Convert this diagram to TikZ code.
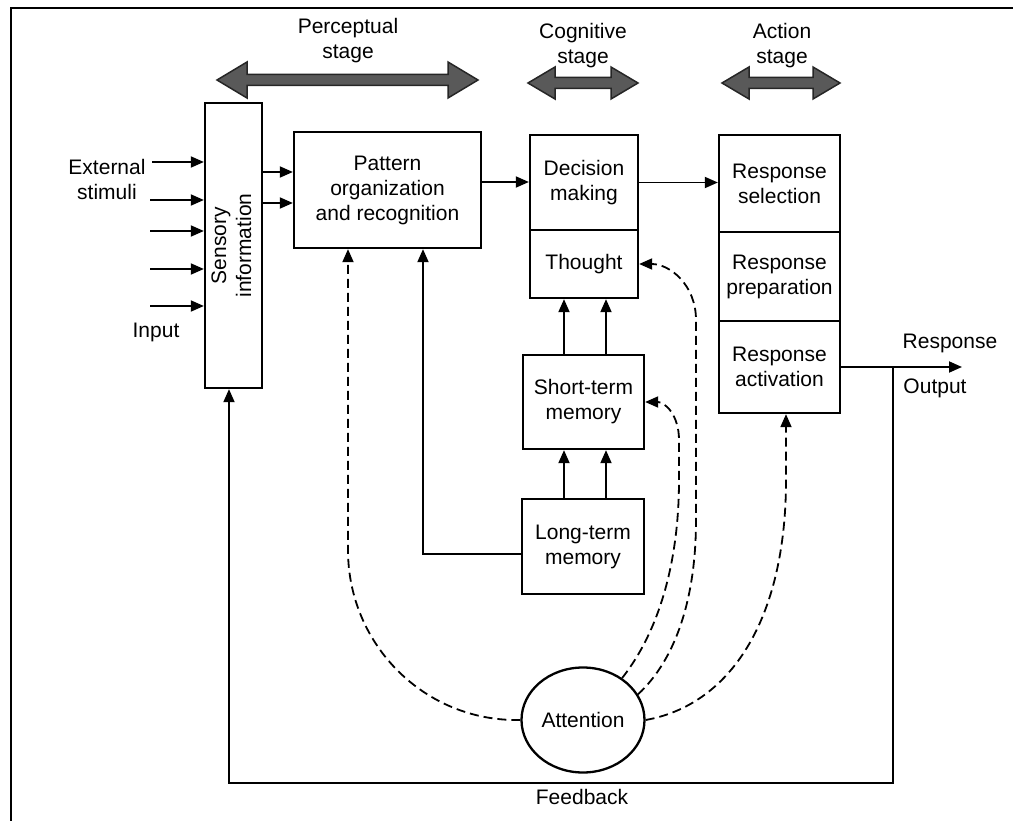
\documentclass[tikz,border=0pt]{standalone}
\usepackage{fontspec}
\setmainfont{Liberation Sans}
\usetikzlibrary{arrows.meta,shapes.geometric}

% broad two-headed stage marker: #1 left tip x, #2 right tip x, #3 y, #4 head length, #5 head half-width
\newcommand\StageArrow[5]{%
  \filldraw[stagefill]
    (#1,#3) -- (#1+#4,#3-#5) -- (#1+#4,#3-5.5) -- (#2-#4,#3-5.5) -- (#2-#4,#3-#5)
    -- (#2,#3) -- (#2-#4,#3+#5) -- (#2-#4,#3+5.5) -- (#1+#4,#3+5.5) -- (#1+#4,#3+#5) -- cycle;}

\begin{document}
\begin{tikzpicture}[x=1pt,y=-1pt,
  every node/.style={font=\fontsize{21}{25}\selectfont},
  box/.style={draw,line width=2.3pt,inner sep=0pt,align=center,anchor=center},
  lbl/.style={inner sep=0pt,align=center},
  arr/.style={line width=1.8pt,-{Triangle[length=13pt,width=11pt]}},
  dsh/.style={arr,dash pattern=on 9pt off 5pt},
  stagefill/.style={fill=black!65,draw=black!85,line width=1.5pt,line join=miter}]

\useasboundingbox (0,0) rectangle (1013,821);

% page frame
\draw[line width=2.4pt] (11,821) -- (11,8) -- (1013,8);

% stage markers
\node[lbl] (perc) at (348,41) {Perceptual\\stage};
\node[lbl] (cogn) at (583,46) {Cognitive\\stage};
\node[lbl] (actn) at (782,46) {Action\\stage};
\StageArrow{217}{478}{80}{30}{18}
\StageArrow{528}{638}{83}{27}{16}
\StageArrow{722}{840}{83}{27}{16}

% processing blocks
\node[box,minimum width=57pt,minimum height=285pt] (sens) at (233.5,245.5)
  {\rotatebox{90}{\begin{tabular}{@{}c@{}}Sensory\\information\end{tabular}}};
\node[box,minimum width=187pt,minimum height=116pt] (pat) at (387.5,190)
  {Pattern\\organization\\and recognition};
\node[box,minimum width=108pt,minimum height=95pt] (dec) at (584,182.5) {Decision\\making};
\node[box,minimum width=108pt,minimum height=68pt] (th) at (584,264) {Thought};
\node[box,minimum width=121pt,minimum height=97pt] (sel) at (779.5,183.5) {Response\\selection};
\node[box,minimum width=121pt,minimum height=89pt] (prep) at (779.5,276.5) {Response\\preparation};
\node[box,minimum width=121pt,minimum height=92pt] (act) at (779.5,367) {Response\\activation};
\node[box,minimum width=121pt,minimum height=94pt] (stm) at (583.5,402) {Short-term\\memory};
\node[box,minimum width=122pt,minimum height=95pt] (ltm) at (583,546.5) {Long-term\\memory};
\node[box,ellipse,minimum width=123pt,minimum height=105pt] (att) at (583,720) {Attention};

% labels
\node[lbl] (ext) at (107,179) {External\\stimuli};
\node[lbl] (inp) at (156,332) {Input};
\node[lbl] (resp) at (950,343) {Response};
\node[lbl] (outl) at (935,388) {Output};
\node[lbl] (fbl) at (582,797) {Feedback};

% external inputs
\coordinate (in1) at (152,162);
\coordinate (in2) at (150,200);
\coordinate (in3) at (150,231);
\coordinate (in4) at (150,269);
\coordinate (in5) at (150,306);
\foreach \c in {in1,in2,in3,in4,in5}
  \draw[arr] (\c) -- (\c -| sens.west);

% forward flow
\draw[arr] (sens.east |- 0,172) -- (pat.west |- 0,172);
\draw[arr] (sens.east |- 0,203) -- (pat.west |- 0,203);
\draw[arr] (pat.east |- 0,182) -- (dec.west |- 0,182);
\draw[arr] (dec.east) -- (sel.west |- dec.east);

% memory links
\draw[arr] (stm.north -| 564,0) -- (th.south -| 564,0);
\draw[arr] (stm.north -| 606,0) -- (th.south -| 606,0);
\draw[arr] (ltm.north -| 564,0) -- (stm.south -| 564,0);
\draw[arr] (ltm.north -| 606,0) -- (stm.south -| 606,0);
\coordinate (lk) at (423,554);
\draw[arr] (ltm.west |- lk) -- (lk) -- (pat.south -| lk);

% output and feedback
\coordinate (out) at (962,367);
\coordinate (fb) at (893,367);
\coordinate (fbr) at (893,783);
\coordinate (fbl2) at (229,783);
\draw[arr] (act.east) -- (out);
\draw[arr] (fb) -- (fbr) -- (fbl2) -- (sens.south -| fbl2);

% attention paths
\draw[dsh] (att.west) .. controls (425,722) and (348,645) .. (348,550) -- (pat.south -| 348,0);
\draw[dsh] (att.47) .. controls (660,630) and (679,560) .. (679,480) -- (679,440)
  .. controls (679,415) and (665,402) .. (stm.east);
\draw[dsh] (att.25) .. controls (675,660) and (696,600) .. (696,520) -- (696,320)
  .. controls (696,285) and (670,264) .. (th.east);
\draw[dsh] (att.east) .. controls (730,705) and (786,620) .. (786,480) -- (act.south -| 786,0);

\end{tikzpicture}
\end{document}
